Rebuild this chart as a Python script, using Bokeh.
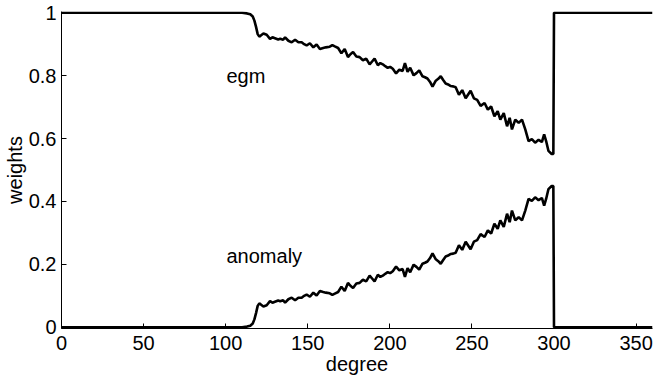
from bokeh.plotting import figure
from bokeh.models import Range1d, FixedTicker, ColumnDataSource
from bokeh.core.properties import value
from bokeh.embed import file_html
from bokeh.resources import INLINE

degree = [0, 110, 113, 115, 116.5, 117.5, 118.5, 119.5, 120.5, 122, 123, 125, 127, 128.5, 130, 132,
          133.2, 135, 136.2, 138.2, 140.2, 142.3, 144.3, 146.3, 147.8, 149.3, 151.3, 153.4, 155.4,
          157.4, 159.4, 161, 163.4, 165, 166.5, 168.5, 170.5, 172.5, 174.5, 176, 177.6, 179.6, 181.6,
          183.6, 185.6, 187.7, 189.2, 190.7, 192.7, 194.2, 195.7, 197.2, 198.7, 200.2, 201.8, 203.8,
          205.8, 207.8, 209.2, 210.8, 212.4, 214.5, 216.2, 217.9, 219.9, 221.4, 222.9, 224.5, 226,
          228, 229.5, 231, 232.5, 234, 235.5, 237.1, 238.6, 240.1, 242.1, 244.1, 246.2, 247.7, 249.2,
          251.2, 253.2, 255.3, 257.7, 259.7, 261.7, 263.7, 265.7, 267.3, 269.4, 271.4, 273, 274.4,
          276.4, 278.5, 280.5, 282.5, 284.5, 286.5, 288.5, 290.6, 292.6, 294, 295.2, 296.6, 298.6,
          299.6, 300, 360]

egm = [1.0, 1.0, 0.998, 0.995, 0.988, 0.975, 0.955, 0.932, 0.924, 0.930, 0.934, 0.930, 0.917, 0.922,
       0.919, 0.915, 0.917, 0.914, 0.922, 0.911, 0.906, 0.914, 0.906, 0.906, 0.900, 0.896, 0.903,
       0.890, 0.899, 0.885, 0.888, 0.890, 0.892, 0.897, 0.893, 0.888, 0.871, 0.885, 0.859, 0.868,
       0.875, 0.861, 0.859, 0.849, 0.854, 0.836, 0.845, 0.854, 0.833, 0.840, 0.836, 0.830, 0.825,
       0.828, 0.822, 0.807, 0.819, 0.815, 0.840, 0.812, 0.825, 0.801, 0.808, 0.817, 0.798, 0.795,
       0.791, 0.780, 0.765, 0.784, 0.790, 0.798, 0.786, 0.775, 0.772, 0.767, 0.766, 0.763, 0.739,
       0.754, 0.728, 0.740, 0.752, 0.728, 0.723, 0.704, 0.713, 0.692, 0.702, 0.671, 0.687, 0.660,
       0.681, 0.639, 0.666, 0.629, 0.660, 0.650, 0.660, 0.629, 0.592, 0.598, 0.587, 0.596, 0.589,
       0.613, 0.592, 0.561, 0.551, 0.551, 1.0, 1.0]

anomaly = [0.0, 0.0, 0.002, 0.005, 0.012, 0.025, 0.045, 0.068, 0.076, 0.070, 0.066, 0.070, 0.083,
           0.078, 0.081, 0.085, 0.083, 0.086, 0.078, 0.089, 0.094, 0.086, 0.094, 0.094, 0.100,
           0.104, 0.097, 0.110, 0.101, 0.115, 0.112, 0.110, 0.108, 0.103, 0.107, 0.112, 0.129,
           0.115, 0.141, 0.132, 0.125, 0.139, 0.141, 0.151, 0.146, 0.164, 0.155, 0.146, 0.167,
           0.160, 0.164, 0.170, 0.175, 0.172, 0.178, 0.193, 0.181, 0.185, 0.160, 0.188, 0.175,
           0.199, 0.192, 0.183, 0.202, 0.205, 0.209, 0.220, 0.235, 0.216, 0.210, 0.202, 0.214,
           0.225, 0.228, 0.233, 0.234, 0.237, 0.261, 0.246, 0.272, 0.260, 0.248, 0.272, 0.277,
           0.296, 0.287, 0.308, 0.298, 0.329, 0.313, 0.340, 0.319, 0.361, 0.334, 0.371, 0.340,
           0.350, 0.340, 0.371, 0.408, 0.402, 0.413, 0.404, 0.411, 0.387, 0.408, 0.439, 0.449,
           0.449, 0.0, 0.0]

x_ticks = [0, 50, 100, 150, 200, 250, 300, 350]
y_ticks = [0, 0.2, 0.4, 0.6, 0.8, 1]
y_tick_labels = {0: "0", 0.2: "0.2", 0.4: "0.4", 0.6: "0.6", 0.8: "0.8", 1: "1"}

labels = ["egm", "anomaly"]
label_x = [100.5, 100.5]
label_y = [0.798, 0.227]

FONT = "Liberation Sans"

p = figure(width=653, height=380, output_backend="svg", toolbar_location=None,
           x_range=Range1d(0, 360), y_range=Range1d(-0.004, 1.004),
           min_border_left=57, min_border_right=1, min_border_top=11, min_border_bottom=52)
p.outline_line_color = None
p.xgrid.visible = False
p.ygrid.visible = False

p.line(degree, egm, line_color="black", line_width=2.6)
p.line(degree, anomaly, line_color="black", line_width=2.6)

src = ColumnDataSource(dict(x=label_x, y=label_y, t=labels))
p.text(x="x", y="y", text="t", source=src, text_font=value(FONT), text_font_size="20px",
       text_color="black", text_align="left", text_baseline="alphabetic")

for ax in (p.xaxis[0], p.yaxis[0]):
    ax.axis_line_color = "black"
    ax.axis_line_width = 1
    ax.major_tick_line_color = "black"
    ax.major_tick_in = 5
    ax.major_tick_out = 0
    ax.minor_tick_line_color = None
    ax.major_label_text_font = FONT
    ax.major_label_text_font_size = "20px"
    ax.major_label_text_color = "black"
    ax.axis_label_text_font = FONT
    ax.axis_label_text_font_size = "20px"
    ax.axis_label_text_font_style = "normal"
    ax.axis_label_text_color = "black"

p.xaxis.ticker = FixedTicker(ticks=x_ticks)
p.yaxis.ticker = FixedTicker(ticks=y_ticks)
p.yaxis.major_label_overrides = y_tick_labels
p.xaxis.axis_label = "degree"
p.yaxis.axis_label = "weights"
p.xaxis.major_label_standoff = 7
p.yaxis.major_label_standoff = 5
p.xaxis.axis_label_standoff = 0
p.yaxis.axis_label_standoff = 0

open("out.html", "w").write(file_html(p, INLINE))
